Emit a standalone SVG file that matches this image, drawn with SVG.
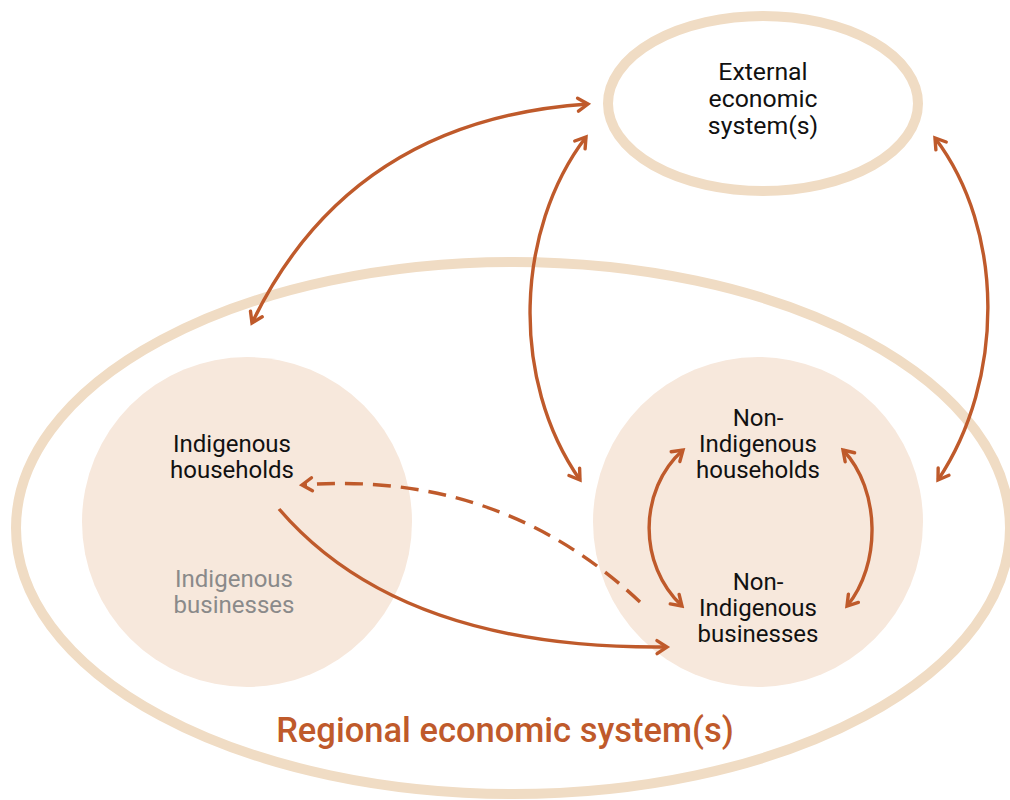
<svg xmlns="http://www.w3.org/2000/svg" width="1010" height="800" viewBox="0 0 1010 800">
  <style>
    .ring { fill: none; stroke: #f0dcc4; stroke-width: 10; }
    .disc { fill: #f7e8dc; }
    .lbl { font-family: Roboto, "Liberation Sans", sans-serif; font-size: 24px; fill: #111; text-anchor: middle; }
    .big { font-size: 24.8px; }
    .muted { fill: #8a8a8a; }
    .flow { fill: none; stroke: #bf5a2b; stroke-width: 3.4; }
    .dash { stroke-dasharray: 18 10; }
    .title { font-family: Roboto, "Liberation Sans", sans-serif; font-size: 34.5px; font-weight: 500; fill: #bf5a2b; text-anchor: middle; }
  </style>
  <defs>
    <marker id="chev" markerUnits="userSpaceOnUse" markerWidth="18" markerHeight="18" viewBox="0 0 18 18" refX="14.5" refY="9" orient="auto-start-reverse">
      <path d="M4.5,2.5 L14.5,9 L4.5,15.5" fill="none" stroke="#bf5a2b" stroke-width="3.4" stroke-linecap="round" stroke-linejoin="miter"/>
    </marker>
  </defs>

  <rect width="1010" height="800" fill="#ffffff"/>

  <!-- regional system -->
  <g id="regional">
    <ellipse class="ring" cx="513" cy="528" rx="497" ry="266"/>
    <text class="title" x="505" y="742">Regional economic system(s)</text>
  </g>

  <!-- external system -->
  <g id="external">
    <ellipse class="ring" cx="763" cy="103.5" rx="155" ry="87.5"/>
    <text class="lbl big" x="763" y="80">External<tspan x="763" dy="27">economic</tspan><tspan x="763" dy="27">system(s)</tspan></text>
  </g>

  <!-- indigenous sector -->
  <g id="indigenous">
    <circle class="disc" cx="247" cy="522" r="165"/>
    <text class="lbl" x="232" y="452">Indigenous<tspan x="232" dy="26">households</tspan></text>
    <text class="lbl muted" x="234" y="587">Indigenous<tspan x="234" dy="26">businesses</tspan></text>
  </g>

  <!-- non-indigenous sector -->
  <g id="non-indigenous">
    <circle class="disc" cx="758" cy="522" r="165"/>
    <text class="lbl" x="758" y="426">Non-<tspan x="758" dy="26">Indigenous</tspan><tspan x="758" dy="26">households</tspan></text>
    <text class="lbl" x="758" y="590">Non-<tspan x="758" dy="26">Indigenous</tspan><tspan x="758" dy="26">businesses</tspan></text>
  </g>

  <!-- flows -->
  <g id="connectors">
    <path class="flow" d="M252,323 Q350,120 588,104" marker-start="url(#chev)" marker-end="url(#chev)"/>
    <path class="flow" d="M586,137 C515,230 510,380 580,480" marker-start="url(#chev)" marker-end="url(#chev)"/>
    <path class="flow" d="M935,138 C1005,230 1005,380 938,480" marker-start="url(#chev)" marker-end="url(#chev)"/>
    <path class="flow" d="M683,450 C638,490 638,565 682,606" marker-start="url(#chev)" marker-end="url(#chev)"/>
    <path class="flow" d="M843,450 C881,490 881,565 847,606" marker-start="url(#chev)" marker-end="url(#chev)"/>
    <path class="flow dash" d="M640,602 Q500,470 302,485" marker-end="url(#chev)"/>
    <path class="flow" d="M279,509 Q400,650 667,647" marker-end="url(#chev)"/>
  </g>
</svg>
